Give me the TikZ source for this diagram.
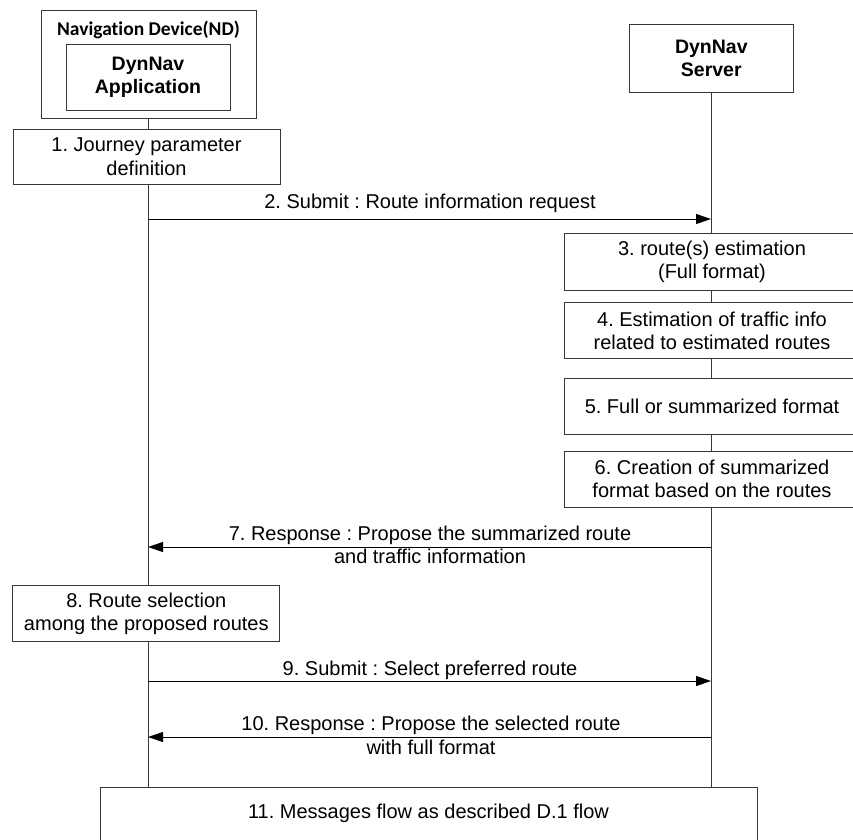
\documentclass[tikz,border=0pt]{standalone}
\usepackage{fontspec}
\setmainfont{Liberation Sans}
\newfontfamily\carlito[Ligatures=NoCommon]{Carlito}
\usetikzlibrary{arrows.meta}
\newcommand\fs{\fontsize{20}{23.5}\selectfont}
\frenchspacing
\begin{document}
\begin{tikzpicture}[x=1pt,y=-1pt,
  box/.style={draw=black!78, line width=1pt, rectangle, align=center, inner sep=0pt, font=\fs},
  life/.style={draw=black!78, line width=1pt},
  msg/.style={draw=black, line width=1pt, -{Triangle[length=15pt,width=10pt]}},
  lbl/.style={inner sep=0pt, font=\fs, anchor=base},
]
\useasboundingbox (0,0) rectangle (853,839);
\clip (0,0) rectangle (853,839);
% lifeline x positions
\coordinate (L) at (148,0);
\coordinate (R) at (711,0);
% left participant
\node[box, minimum width=215pt, minimum height=108pt] (nd) at (148.5,64.2) {};
\node[lbl, font=\carlito\bfseries\fontsize{19.5}{22}\selectfont] (ndt) at (148.5,35) {Navigation Device(ND)};
\node[box, minimum width=164pt, minimum height=66pt, font=\bfseries\fontsize{19.5}{22.5}\selectfont] (app) at (148,77.2) {DynNav\\Application};
% right participant
\node[box, minimum width=164pt, minimum height=68pt, font=\bfseries\fontsize{19.5}{23.5}\selectfont] (srv) at (711.3,58.3) {DynNav\\Server};
% steps
\node[box, minimum width=267pt, minimum height=55pt] (b1) at (146.5,156.5) {1. Journey parameter\\definition};
\node[box, minimum width=296pt, minimum height=56.7pt] (b3) at (712,261.7) {3. route(s) estimation\\(Full format)};
\node[box, minimum width=296pt, minimum height=56.3pt] (b4) at (712,330.8) {4. Estimation of traffic info\\related to estimated routes};
\node[box, minimum width=296pt, minimum height=56pt] (b5) at (712,406.3) {5. Full or summarized format};
\node[box, minimum width=296pt, minimum height=56pt] (b6) at (712,479) {6. Creation of summarized\\format based on the routes};
\node[box, minimum width=267.3pt, minimum height=56pt] (b8) at (146.3,613.7) {8. Route selection\\among the proposed routes};
\node[box, minimum width=657pt, minimum height=53pt] (b11) at (428.5,813.5) {11. Messages flow as described D.1 flow};
% lifelines
\draw[life] (nd.south -| L) -- (b1.north -| L);
\draw[life] (b1.south -| L) -- (b8.north -| L);
\draw[life] (b8.south -| L) -- (b11.north -| L);
\draw[life] (srv.south -| R) -- (b3.north -| R);
\draw[life] (b3.south -| R) -- (b4.north -| R);
\draw[life] (b4.south -| R) -- (b5.north -| R);
\draw[life] (b5.south -| R) -- (b6.north -| R);
\draw[life] (b6.south -| R) -- (b11.north -| R);
% messages
\coordinate (m2a) at (148,219);  \coordinate (m2b) at (711,219);
\coordinate (m7a) at (711,547);  \coordinate (m7b) at (148,547);
\coordinate (m9a) at (148,681);  \coordinate (m9b) at (711,681);
\coordinate (m10a) at (711,737); \coordinate (m10b) at (148,737);
\draw[msg] (m2a) -- (m2b);
\draw[msg] (m7a) -- (m7b);
\draw[msg] (m9a) -- (m9b);
\draw[msg] (m10a) -- (m10b);
\node[lbl] (l2) at (430,208) {2. Submit : Route information request};
\node[lbl] (l7a) at (430,540) {7. Response : Propose the summarized route};
\node[lbl] (l7b) at (430,563.5) {and traffic information};
\node[lbl] (l9) at (430,675) {9. Submit : Select preferred route};
\node[lbl] (l10a) at (431,730.7) {10. Response : Propose the selected route};
\node[lbl] (l10b) at (431,754) {with full format};
\end{tikzpicture}
\end{document}
